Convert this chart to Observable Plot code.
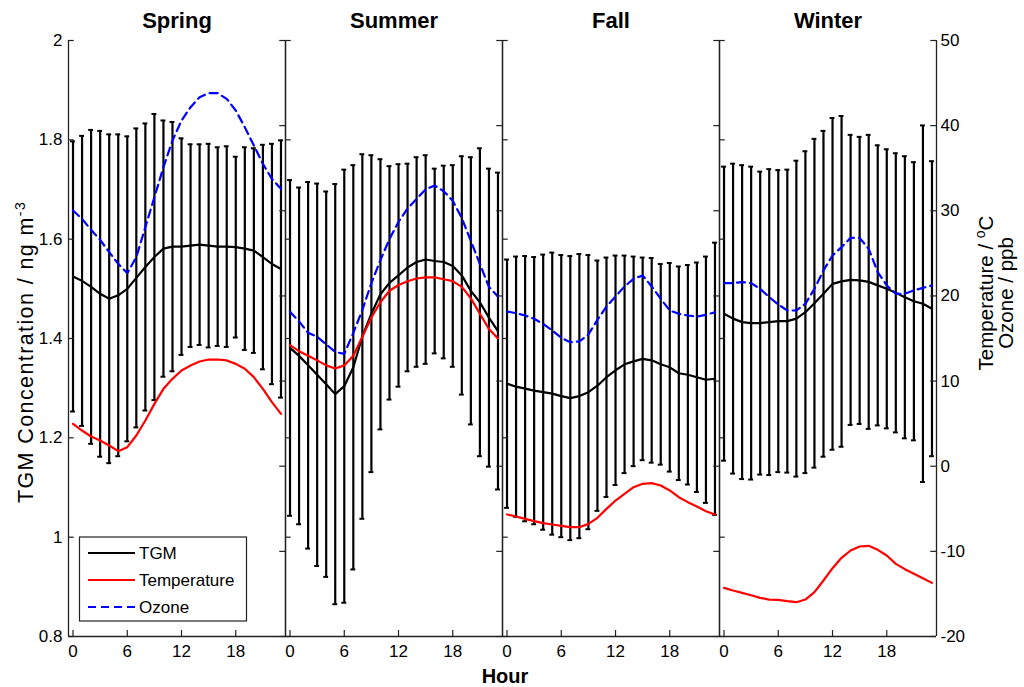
<!DOCTYPE html>
<html><head><meta charset="utf-8">
<script src="https://cdn.jsdelivr.net/npm/d3@7"></script>
<script src="https://cdn.jsdelivr.net/npm/@observablehq/plot@0.6"></script>
<style>
body{margin:0;background:#fff;}
#chart{position:relative;width:1024px;height:687px;background:#fff;font-family:"Liberation Sans",Arial,sans-serif;}
#chart svg{position:absolute;left:0;top:0;overflow:visible;}
</style></head><body><div id="chart"></div>
<script>
const seasons = ["Spring","Summer","Fall","Winter"];
const hours = [0,1,2,3,4,5,6,7,8,9,10,11,12,13,14,15,16,17,18,19,20,21,22,23];
const xTicks = [0,6,12,18];
const tgmTicks = [0.8,1,1.2,1.4,1.6,1.8,2];
const envTicks = [-20,-10,0,10,20,30,40,50];

const springTGM = [1.525,1.516,1.504,1.490,1.480,1.487,1.500,1.522,1.544,1.564,1.581,1.585,1.585,1.587,1.589,1.587,1.585,1.585,1.584,1.581,1.577,1.564,1.550,1.540];
const springSD = [0.272,0.292,0.316,0.328,0.331,0.324,0.307,0.301,0.289,0.288,0.258,0.251,0.218,0.204,0.202,0.205,0.200,0.202,0.182,0.204,0.206,0.226,0.242,0.259];
const springTemp = [4.98,4.19,3.49,3.02,2.43,1.77,2.24,3.61,5.37,7.32,9.09,10.26,11.24,11.83,12.30,12.53,12.53,12.42,12.02,11.44,10.46,9.09,7.52,6.15];
const springOzone = [30.03,29.05,27.76,26.59,25.14,23.77,22.67,24.55,28.08,31.60,35.12,38.25,40.60,42.17,43.34,43.81,43.81,43.15,41.78,39.82,37.67,35.51,33.75,32.58];

const summerTGM = [1.381,1.365,1.346,1.327,1.308,1.288,1.304,1.342,1.404,1.450,1.489,1.512,1.527,1.543,1.554,1.559,1.556,1.554,1.546,1.527,1.496,1.473,1.442,1.415];
const summerSD = [0.338,0.339,0.369,0.385,0.388,0.423,0.436,0.407,0.367,0.319,0.272,0.235,0.224,0.209,0.211,0.210,0.186,0.194,0.203,0.240,0.269,0.310,0.300,0.319];
const summerTemp = [14.23,13.51,12.97,12.43,11.84,11.48,11.84,12.97,15.21,17.46,19.26,20.61,21.28,21.73,22.05,22.18,22.18,21.96,21.73,21.06,19.71,17.91,16.11,14.99];
const summerOzone = [18.13,17.01,15.66,15.21,14.31,13.42,13.19,15.66,18.36,21.51,24.21,26.68,28.70,30.27,31.40,32.52,32.97,32.30,31.17,29.15,26.45,23.76,21.06,19.93];

const fallTGM = [1.309,1.303,1.299,1.295,1.292,1.289,1.284,1.280,1.284,1.292,1.305,1.322,1.336,1.348,1.354,1.359,1.356,1.348,1.342,1.330,1.327,1.322,1.317,1.319];
const fallSD = [0.250,0.262,0.267,0.269,0.277,0.284,0.284,0.286,0.286,0.276,0.252,0.241,0.231,0.219,0.211,0.204,0.206,0.202,0.210,0.215,0.221,0.231,0.248,0.274];
const fallTemp = [-5.67,-5.91,-6.18,-6.45,-6.69,-6.85,-7.00,-7.16,-7.16,-6.77,-6.06,-5.01,-4.03,-3.24,-2.46,-2.07,-1.99,-2.27,-2.85,-3.64,-4.22,-4.73,-5.28,-5.67];
const fallOzone = [18.17,17.97,17.70,17.31,16.72,15.94,15.08,14.57,14.65,15.47,17.19,18.76,19.93,21.11,22.01,22.40,21.11,19.66,18.29,17.90,17.70,17.58,17.78,18.09];

const winterTGM = [1.450,1.440,1.433,1.431,1.431,1.433,1.435,1.435,1.440,1.453,1.471,1.490,1.510,1.515,1.518,1.517,1.514,1.507,1.500,1.492,1.483,1.475,1.470,1.460];
const winterSD = [0.296,0.312,0.316,0.315,0.305,0.308,0.304,0.305,0.318,0.324,0.331,0.328,0.334,0.333,0.292,0.289,0.296,0.282,0.281,0.281,0.284,0.280,0.359,0.297];
const winterTemp = [-14.29,-14.60,-14.87,-15.15,-15.46,-15.66,-15.70,-15.85,-15.97,-15.66,-14.79,-13.42,-11.98,-10.76,-9.90,-9.43,-9.35,-9.82,-10.49,-11.47,-12.09,-12.64,-13.15,-13.70];
const winterOzone = [21.50,21.50,21.62,21.50,20.83,19.86,19.00,18.29,18.29,19.07,20.83,22.99,24.75,25.73,26.82,26.82,25.53,22.80,21.23,20.25,20.25,20.64,20.95,21.23];

const tgmBy = {Spring: springTGM, Summer: summerTGM, Fall: fallTGM, Winter: winterTGM};
const sdBy = {Spring: springSD, Summer: summerSD, Fall: fallSD, Winter: winterSD};
const tempBy = {Spring: springTemp, Summer: summerTemp, Fall: fallTemp, Winter: winterTemp};
const ozoneBy = {Spring: springOzone, Summer: summerOzone, Fall: fallOzone, Winter: winterOzone};

const rows = seasons.flatMap(s => hours.map((h, i) => ({
  season: s, hour: h, tgm: tgmBy[s][i], sd: sdBy[s][i], temp: tempBy[s][i], ozone: ozoneBy[s][i]
})));

const W = 1024, H = 687, L = 67.7, R = 936.7, T = 40, B = 636;
const facetW = (R - L) / 4;
const font = "'Liberation Sans', Arial, sans-serif";

const base = {
  width: W, height: H, marginLeft: L, marginRight: W - R, marginTop: T, marginBottom: H - B,
  x: {domain: [-0.5, 23.5], axis: null, label: null},
};

const p1 = Plot.plot({
  ...base,
  fx: {domain: seasons, padding: 0, label: null},
  y: {domain: [0.8, 2], axis: null, label: null},
  style: {fontFamily: font, fontSize: "17px", background: "white", color: "black", overflow: "visible"},
  marks: [
    Plot.ruleX(rows, {fx: "season", x: "hour", y1: d => d.tgm - d.sd, y2: d => d.tgm + d.sd, stroke: "black", strokeWidth: 2.2}),
    Plot.ruleY(rows, {fx: "season", x1: d => d.hour - 0.27, x2: d => d.hour + 0.27, y: d => d.tgm + d.sd, stroke: "black", strokeWidth: 2}),
    Plot.ruleY(rows, {fx: "season", x1: d => d.hour - 0.27, x2: d => d.hour + 0.27, y: d => d.tgm - d.sd, stroke: "black", strokeWidth: 2}),
    Plot.lineY(rows, {fx: "season", x: "hour", y: "tgm", stroke: "black", strokeWidth: 2.2}),
    Plot.tickY(tgmTicks, {y: d => d, insetRight: facetW - 6, stroke: "#222", strokeWidth: 1.2}),
    Plot.tickX(xTicks, {x: d => d, insetTop: (B - T) - 6, stroke: "#222", strokeWidth: 1.2}),
    Plot.ruleX([-0.5, 23.5], {stroke: "#222", strokeWidth: 1.3}),
    Plot.ruleY([0.8], {stroke: "#222", strokeWidth: 1.3}),
    Plot.axisY({anchor: "left", ticks: tgmTicks, tickSize: 0, tickPadding: 6, label: null,
      tickFormat: d => String(+d.toFixed(1)), fontSize: 17}),
    Plot.axisX({ticks: xTicks, tickSize: 0, tickPadding: 8, label: null, fontSize: 17}),
    Plot.axisFx({anchor: "top", tickSize: 0, tickPadding: 13, label: null, fontSize: 22, fontWeight: "bold"})
  ]
});

const p2 = Plot.plot({
  ...base,
  fx: {domain: seasons, padding: 0, axis: null, label: null},
  y: {domain: [-20, 50], axis: null, label: null},
  style: {fontFamily: font, fontSize: "17px", background: "transparent", color: "black", overflow: "visible"},
  marks: [
    Plot.lineY(rows, {fx: "season", x: "hour", y: "temp", stroke: "#ff0000", strokeWidth: 2.2}),
    Plot.lineY(rows, {fx: "season", x: "hour", y: "ozone", stroke: "#0000ff", strokeWidth: 2.2, strokeDasharray: "8,5"}),
    Plot.tickY(envTicks, {y: d => d, insetLeft: facetW - 6, stroke: "#222", strokeWidth: 1.2}),
    Plot.axisY({anchor: "right", ticks: envTicks, tickSize: 0, tickPadding: 4, label: null,
      tickFormat: d => String(d), fontSize: 17})
  ]
});

const chart = document.getElementById("chart");
chart.appendChild(p1);
chart.appendChild(p2);

// Overlay: axis titles and legend
const svg = d3.select(chart).append("svg")
  .attr("width", W).attr("height", H)
  .style("font-family", font);

const lt = svg.append("text")
  .attr("transform", "translate(33,352) rotate(-90)")
  .attr("text-anchor", "middle").attr("font-size", 21.5).attr("letter-spacing", 1.4);
lt.append("tspan").text("TGM Concentration / ng m");
lt.append("tspan").attr("dy", -8).attr("font-size", 14).text("-3");

const rt = svg.append("text")
  .attr("transform", "translate(993,293) rotate(-90)")
  .attr("text-anchor", "middle").attr("font-size", 20.5);
rt.append("tspan").text("Temperature / ");
rt.append("tspan").attr("dy", -8).attr("font-size", 14).text("o");
rt.append("tspan").attr("dy", 8).text("C");
svg.append("text")
  .attr("transform", "translate(1013,293) rotate(-90)")
  .attr("text-anchor", "middle").attr("font-size", 20.5).text("Ozone / ppb");

svg.append("text").attr("x", 505).attr("y", 683).attr("text-anchor", "middle")
  .attr("font-size", 20).attr("font-weight", "bold").text("Hour");

const legendItems = [
  {name: "TGM", color: "black", dash: null},
  {name: "Temperature", color: "#ff0000", dash: null},
  {name: "Ozone", color: "#0000ff", dash: "8,5"}
];
const lg = svg.append("g");
lg.append("rect").attr("x", 79.5).attr("y", 537).attr("width", 167).attr("height", 84)
  .attr("fill", "white").attr("stroke", "#222").attr("stroke-width", 1.2);
legendItems.forEach((it, i) => {
  const y = 553 + i * 27;
  lg.append("line").attr("x1", 88).attr("x2", 135).attr("y1", y).attr("y2", y)
    .attr("stroke", it.color).attr("stroke-width", 2).attr("stroke-dasharray", it.dash);
  lg.append("text").attr("x", 139).attr("y", y).attr("dy", "0.35em")
    .attr("font-size", 17).text(it.name);
});
</script></body></html>
